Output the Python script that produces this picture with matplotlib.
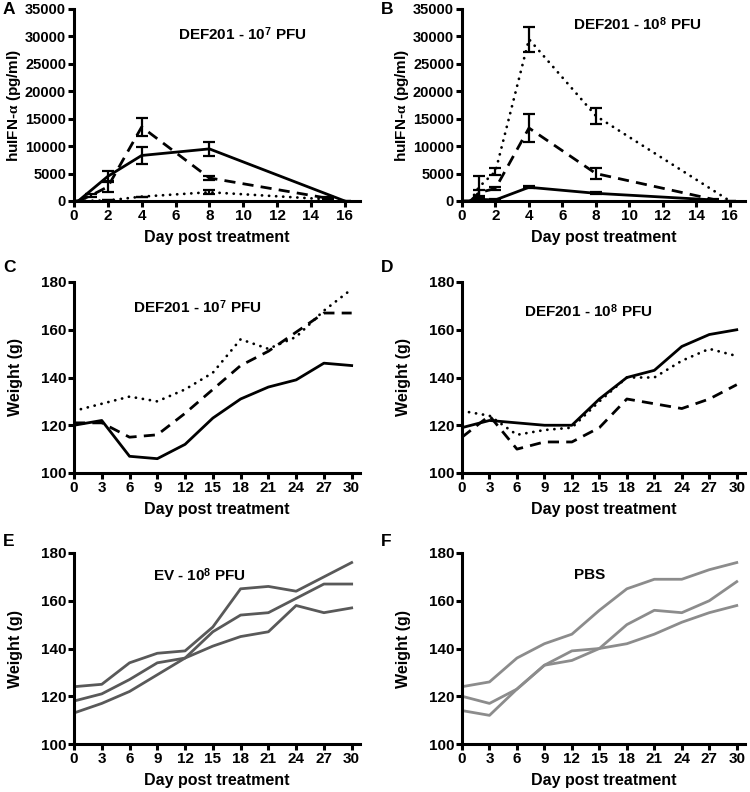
import matplotlib
matplotlib.use("Agg")
import matplotlib.pyplot as plt

plt.rcParams['font.family'] = ['Liberation Sans', 'DejaVu Sans']
plt.rcParams['font.weight'] = 'bold'
plt.rcParams['mathtext.fontset'] = 'custom'
plt.rcParams['mathtext.rm'] = 'Liberation Serif'
plt.rcParams['mathtext.it'] = 'Liberation Serif'
plt.rcParams['mathtext.bf'] = 'Liberation Sans:bold'

# ---- IFN data (panels A, B) ----
a_solid_x = [0.25, 2, 4, 8, 16]
a_solid_y = [0, 4500, 8300, 9500, 0]
a_solid_e = [0, 1000, 1600, 1300, 0]
a_dash_x = [0.25, 1, 2, 4, 8, 15]
a_dash_y = [0, 1000, 2600, 13500, 4200, 500]
a_dash_e = [0, 300, 1000, 1700, 300, 200]
a_dot_x = [0.25, 2, 4, 8, 15]
a_dot_y = [0, 100, 800, 1600, 300]
a_dot_e = [0, 0, 0, 400, 150]

b_solid_x = [0.5, 1, 2, 4, 8, 15]
b_solid_y = [0, 300, 200, 2500, 1400, 200]
b_solid_e = [0, 100, 100, 200, 200, 50]
b_dash_x = [0.5, 1, 2, 4, 8, 15]
b_dash_y = [0, 1500, 2300, 13300, 5000, 300]
b_dash_e = [0, 500, 300, 2600, 1000, 100]
b_dot_x = [0.5, 1, 2, 4, 8, 16]
b_dot_y = [0, 2500, 5400, 29500, 15500, 0]
b_dot_e = [0, 2000, 700, 2300, 1500, 0]

# ---- weight data (panels C-F) ----
days = [0, 3, 6, 9, 12, 15, 18, 21, 24, 27, 30]
c_solid = [120, 122, 107, 106, 112, 123, 131, 136, 139, 146, 145]
c_dash = [121, 121, 115, 116, 125, 135, 145, 151, 159, 167, 167]
c_dot = [126, 129, 132, 130, 135, 142, 156, 152, 157, 168, 177]

d_solid = [119, 122, 121, 120, 120, 131, 140, 143, 153, 158, 160]
d_dash = [115, 124, 110, 113, 113, 119, 131, 129, 127, 131, 137]
d_dot = [126, 124, 116, 118, 119, 130, 140, 140, 147, 152, 149]

e_1 = [124, 125, 134, 138, 139, 149, 165, 166, 164, 170, 176]
e_2 = [118, 121, 127, 134, 136, 147, 154, 155, 161, 167, 167]
e_3 = [113, 117, 122, 129, 136, 141, 145, 147, 158, 155, 157]

f_1 = [124, 126, 136, 142, 146, 156, 165, 169, 169, 173, 176]
f_2 = [120, 117, 123, 133, 139, 140, 150, 156, 155, 160, 168]
f_3 = [114, 112, 123, 133, 135, 140, 142, 146, 151, 155, 158]

LW = 2.0
DASH = (0, (4, 2.6))
DOT = (0, (0.05, 2.5))
TICK_FS = 11
LABEL_FS = 11.5
TITLE_FS = 11

fig = plt.figure(figsize=(7.5, 7.92), dpi=100)


def make_ax(l, t, w, h, tick_fs=TICK_FS):
    ax = fig.add_axes([l / 750, 1 - (t + h) / 792, w / 750, h / 792])
    for s in ['top', 'right']:
        ax.spines[s].set_visible(False)
    for s in ['left', 'bottom']:
        ax.spines[s].set_linewidth(2.2)
    ax.tick_params(direction='out', length=4.5, width=2.2, labelsize=tick_fs, pad=1.2)
    return ax


def style_ticks(ax):
    for lab in ax.get_xticklabels() + ax.get_yticklabels():
        lab.set_fontweight('bold')


def ifn_line(ax, x, y, e, ls):
    ax.errorbar(x, y, yerr=e, color='black', lw=LW, capsize=4,
                elinewidth=1.6, capthick=1.6, linestyle=ls,
                dash_capstyle='round' if ls == DOT else 'butt')


def ifn_ax(l, w, title, tx, ty):
    ax = make_ax(l, 9, w, 192, tick_fs=10.5)
    ax.set_xlim(0, 16.9)
    ax.set_ylim(0, 35000)
    ax.set_xticks(range(0, 17, 2))
    ax.set_yticks(range(0, 35001, 5000))
    ax.tick_params(axis='x', labelsize=TICK_FS)
    ax.set_ylabel(r'huIFN-$\alpha$ (pg/ml)', fontsize=11, fontweight='bold')
    ax.set_xlabel('Day post treatment', fontsize=LABEL_FS, fontweight='bold', labelpad=5)
    ax.text(tx, ty, title, transform=ax.transAxes, ha='center', va='center',
            fontsize=TITLE_FS, fontweight='bold')
    return ax


# A
axA = ifn_ax(74, 286, r'DEF201 - 10$^{\mathbf{7}}$ PFU', 0.59, 0.87)
ifn_line(axA, a_solid_x, a_solid_y, a_solid_e, '-')
ifn_line(axA, a_dash_x, a_dash_y, a_dash_e, DASH)
ifn_line(axA, a_dot_x, a_dot_y, a_dot_e, DOT)

# B
axB = ifn_ax(462, 283, r'DEF201 - 10$^{\mathbf{8}}$ PFU', 0.62, 0.92)
ifn_line(axB, b_solid_x, b_solid_y, b_solid_e, '-')
ifn_line(axB, b_dash_x, b_dash_y, b_dash_e, DASH)
ifn_line(axB, b_dot_x, b_dot_y, b_dot_e, DOT)


def weight_ax(l, t, w, title, tx, ty):
    ax = make_ax(l, t, w, 191)
    ax.set_xlim(0, 30.9)
    ax.set_ylim(100, 180)
    ax.set_xticks(days)
    ax.set_yticks(range(100, 181, 20))
    ax.set_ylabel('Weight (g)', fontsize=LABEL_FS, fontweight='bold')
    ax.set_xlabel('Day post treatment', fontsize=LABEL_FS, fontweight='bold', labelpad=5)
    ax.text(tx, ty, title, transform=ax.transAxes, ha='center', va='center',
            fontsize=TITLE_FS, fontweight='bold')
    return ax


axC = weight_ax(74, 282, 286, r'DEF201 - 10$^{\mathbf{7}}$ PFU', 0.43, 0.87)
axC.plot(days, c_solid, color='black', lw=LW)
axC.plot(days, c_dash, color='black', lw=LW, ls=DASH)
axC.plot(days, c_dot, color='black', lw=LW, ls=DOT, dash_capstyle='round')

axD = weight_ax(462, 282, 283, r'DEF201 - 10$^{\mathbf{8}}$ PFU', 0.445, 0.85)
axD.plot(days, d_solid, color='black', lw=LW)
axD.plot(days, d_dash, color='black', lw=LW, ls=DASH)
axD.plot(days, d_dot, color='black', lw=LW, ls=DOT, dash_capstyle='round')

axE = weight_ax(74, 553, 286, r'EV - 10$^{\mathbf{8}}$ PFU', 0.44, 0.886)
for s in [e_1, e_2, e_3]:
    axE.plot(days, s, color='#595959', lw=LW)

axF = weight_ax(462, 553, 283, 'PBS', 0.45, 0.886)
for s in [f_1, f_2, f_3]:
    axF.plot(days, s, color='#8c8c8c', lw=LW)

for ax in [axA, axB, axC, axD, axE, axF]:
    style_ticks(ax)
    ax.yaxis.set_label_coords(-0.18, 0.5)

fig.text(3 / 750, 1 - 10 / 792, 'A', fontsize=12.5, fontweight='bold', va='center')
fig.text(381 / 750, 1 - 10 / 792, 'B', fontsize=12.5, fontweight='bold', va='center')
fig.text(3 / 750, 1 - 268 / 792, 'C', fontsize=12.5, fontweight='bold', va='center')
fig.text(381 / 750, 1 - 268 / 792, 'D', fontsize=12.5, fontweight='bold', va='center')
fig.text(3 / 750, 1 - 541 / 792, 'E', fontsize=12.5, fontweight='bold', va='center')
fig.text(381 / 750, 1 - 541 / 792, 'F', fontsize=12.5, fontweight='bold', va='center')

fig.savefig('out.png', dpi=100)
